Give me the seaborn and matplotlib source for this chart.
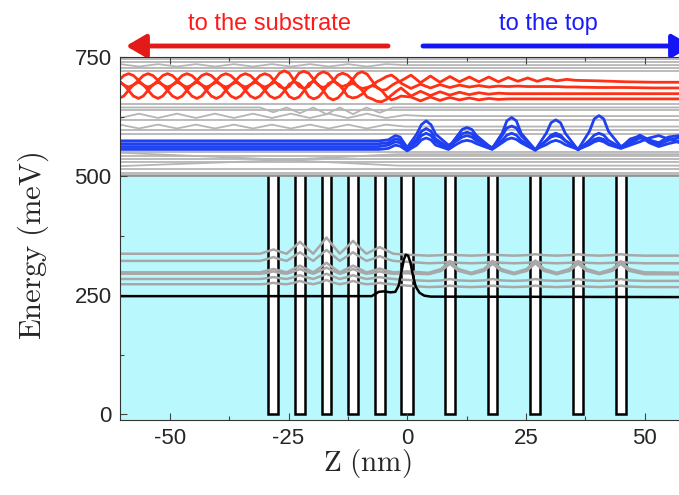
import numpy as np
import pandas as pd
import matplotlib
matplotlib.use('Agg')
import matplotlib.pyplot as plt
import seaborn as sns
from matplotlib.ticker import MultipleLocator

# ---- structure: barriers (nm) ----
barrier_z = [-28.2, -22.6, -17.0, -11.4, -5.8, 0.0, 9.0, 18.0, 27.0, 36.0, 45.0]
barrier_w = [2.05, 2.05, 2.05, 2.05, 2.05, 2.6, 2.05, 2.05, 2.05, 2.05, 2.05]
barrier_top = 500

# ---- ground state (black) ----
ground_z = [-60.5, -7.5, -6.8, -6.0, -5.0, -3.5, -2.5, -1.8, -1.2, -0.7, -0.3, 0.2, 0.7, 1.2, 1.8, 2.6, 3.6, 5, 60]
ground_e = [248, 248, 252, 257, 258, 256, 257, 270, 300, 325, 335, 333, 318, 292, 268, 255, 249, 247, 246]

# ---- bound states in the wells (grey) ----
well_z = [-60.5, -31, -29.4, -28.2, -27.0, -25.4, -23.8, -22.6, -21.4, -19.8, -18.2, -17.0, -15.8,
          -14.2, -12.6, -11.4, -10.2, -8.6, -7.0, -5.8, -4.6, -2.9, 0, 4.5, 7.2, 9, 10.8, 13.5,
          16.2, 18, 19.8, 22.5, 25.2, 27, 28.8, 31.5, 34.2, 36, 37.8, 40.5, 43.2, 45, 46.8, 50, 60]
well_g1 = [337, 337, 342, 346, 342, 337, 351, 362, 351, 337, 356, 371, 356, 337, 352, 364, 352, 337, 345, 351, 345, 337,
           335, 333, 334, 336, 334, 333, 334, 336, 334, 333, 334, 336, 334, 333, 334, 336, 334, 333, 334, 336, 334, 333, 333]
well_g2 = [322, 322, 326, 330, 326, 322, 332, 340, 332, 322, 335, 345, 335, 322, 332, 340, 332, 322, 327, 332, 327, 322,
           320, 317, 318, 320, 318, 317, 318, 320, 318, 317, 318, 320, 318, 317, 318, 320, 318, 317, 318, 320, 318, 317, 317]
well_g3 = [298, 298, 302, 305, 302, 298, 306, 312, 306, 298, 309, 318, 309, 298, 306, 312, 306, 298, 302, 306, 302, 298,
           300, 297, 305, 322, 305, 297, 305, 322, 305, 297, 305, 323, 305, 297, 305, 322, 305, 297, 305, 321, 305, 298, 297]
well_g4 = [295, 295, 297, 300, 297, 295, 300, 305, 300, 295, 302, 308, 302, 295, 300, 305, 300, 295, 297, 300, 297, 295,
           296, 294, 301, 316, 301, 294, 301, 316, 301, 294, 301, 317, 301, 294, 301, 316, 301, 294, 301, 316, 301, 294, 294]
well_g5 = [284, 284, 286, 288, 286, 284, 288, 292, 288, 284, 290, 295, 290, 284, 288, 292, 288, 284, 286, 288, 286, 284,
           282, 280, 281, 284, 281, 280, 281, 284, 281, 280, 281, 284, 281, 280, 281, 284, 281, 280, 281, 284, 281, 280, 280]
well_g6 = [273, 273, 274, 276, 274, 273, 276, 280, 276, 273, 277, 282, 277, 273, 276, 280, 276, 273, 274, 276, 274, 273,
           270, 267, 268, 270, 268, 267, 268, 270, 268, 267, 268, 270, 268, 267, 268, 270, 268, 267, 268, 270, 268, 267, 267]

# ---- continuum states (grey) ----
grey_levels = [746, 740, 727, 721, 652, 638, 617, 596, 588, 550, 543, 536, 529, 514, 507, 502]
wavy_z = [-60.5, -56.5, -52.5, -48.5, -44.5, -40.5, -36.5, -32.5, -28.5, -24.5, -20.5, -16.5, -12.5, -8.5, -4.5, -0.5, 4, 60]
wavy_1 = [622, 631, 622, 631, 622, 631, 622, 631, 622, 631, 622, 631, 622, 631, 622, 628, 626, 626]
wavy_2 = [608, 600, 608, 600, 608, 600, 608, 600, 608, 600, 608, 600, 608, 600, 608, 604, 604, 604]
wavy_3 = [735, 730, 735, 730, 735, 730, 735, 730, 735, 730, 735, 730, 735, 730, 735, 733, 733, 733]
cross_z = [-60.5, -30, -2, 60]
cross_1 = [549, 536, 522, 522]
cross_2 = [521, 532, 546, 546]
vee_z = [-60.5, -31, -28.2, -25.4, -22.6, -19.8, -17, -14.2, -11.4, -8.6, -5.8, -3, 60]
vee_1 = [644, 644, 634, 644, 632, 644, 630, 644, 630, 644, 633, 644, 644]

# ---- states escaping to the top (blue) ----
blue_z = [-60.5, -6, -4, -2.5, -1.5, 0,
          2.0, 3.0, 4.0, 5.0, 6.0,
          8.7, 10.6, 11.6, 12.6, 13.6, 14.6,
          17.9, 20, 21, 22, 23, 24,
          27, 29.3, 30.3, 31.3, 32.3, 33.3,
          36, 38.4, 39.4, 40.4, 41.4, 42.4,
          45, 47, 49, 51, 53, 55, 58]
blue_1 = [574, 574, 576, 585, 582, 560,
          588, 608, 616, 608, 588,
          565, 575, 582, 585, 582, 574,
          560, 575, 586, 590, 586, 575,
          556, 566, 572, 575, 572, 566,
          556, 568, 577, 580, 577, 568,
          560, 568, 580, 574, 566, 575, 582]
blue_2 = [568, 568, 570, 578, 576, 558,
          578, 594, 600, 594, 578,
          560, 585, 598, 602, 598, 585,
          558, 590, 616, 623, 616, 590,
          555, 575, 586, 590, 586, 575,
          556, 566, 572, 575, 572, 566,
          558, 565, 572, 580, 585, 578, 568]
blue_3 = [562, 562, 565, 572, 570, 556,
          572, 585, 590, 585, 572,
          557, 578, 589, 592, 589, 578,
          557, 585, 601, 605, 601, 585,
          555, 590, 612, 618, 612, 590,
          555, 575, 586, 590, 586, 575,
          560, 578, 584, 570, 562, 568, 575]
blue_4 = [556, 556, 558, 565, 563, 553,
          565, 576, 580, 576, 565,
          556, 568, 573, 575, 573, 568,
          556, 570, 577, 580, 577, 570,
          554, 574, 582, 585, 582, 574,
          556, 594, 620, 627, 620, 594,
          562, 572, 586, 576, 570, 582, 586]

# ---- states escaping to the substrate (red) ----
red_z = [-60.75, -59.7, -58.7, -57.65, -56.6, -55.6, -54.6, -53.55, -52.5, -51.5, -50.5, -49.45,
         -48.4, -47.4, -46.4, -45.35, -44.3, -43.3, -42.3, -41.25, -40.2, -39.2, -38.2, -37.15,
         -36.1, -35.1, -34.1, -33.05, -32.0, -31.0, -30.0, -28.95,
         -27.9, -26.9, -25.9, -24.85, -23.8, -22.8, -21.8, -20.75, -19.7, -18.7, -17.7, -16.65,
         -15.6, -14.6, -13.6, -12.55, -11.5, -10.5, -9.5, -8.45, -7.4, -6.4, -5.4, -4.35, -3.3,
         -2.3, -1.3,
         0.8, 2.8, 4.9, 6.9, 9.0, 11.0, 13.1, 15.1, 17.2, 19.2, 21.3, 23.3, 25.4, 27.4, 29.5,
         31.5, 33.6, 35.6, 40, 46, 52, 60]
red_1 = [701, 711, 715, 711, 701, 691, 687, 691, 701, 711, 715, 711, 701, 691, 687, 691,
         701, 711, 715, 711, 701, 691, 687, 691, 701, 711, 715, 711, 701, 691, 687, 691,
         703, 716, 721, 716, 700, 688, 684, 688, 702, 714, 719, 715, 703, 692, 688, 692,
         703, 715, 719, 714, 700, 686, 680, 682, 690, 696, 700,
         712, 696, 710, 697, 709, 698, 708, 698, 708, 698, 707, 699, 706, 699, 705, 700,
         703, 701, 700, 698, 697, 697]
red_2 = [701, 691, 687, 691, 701, 711, 715, 711, 701, 691, 687, 691, 701, 711, 715, 711,
         701, 691, 687, 691, 701, 711, 715, 711, 701, 691, 687, 691, 701, 711, 715, 711,
         699, 688, 684, 688, 702, 716, 720, 716, 703, 690, 686, 690, 700, 712, 716, 712,
         702, 688, 684, 686, 690, 698, 703, 709, 712, 705, 695,
         684, 693, 685, 692, 686, 691, 687, 690, 687, 689, 688, 689, 688, 688, 688, 688,
         687, 687, 686, 686, 685, 685]
red_3 = [697, 692, 680, 668, 663, 668, 680, 692, 697, 692, 680, 668, 663, 668, 680, 692,
         697, 692, 680, 668, 663, 668, 680, 692, 697, 692, 680, 668, 663, 668, 680, 692,
         697, 692, 682, 667, 662, 666, 678, 694, 699, 692, 680, 665, 660, 664, 675, 690,
         695, 690, 680, 666, 662, 657, 656, 661, 670, 678, 685,
         668, 678, 669, 677, 670, 676, 671, 675, 672, 674, 673, 673, 673, 673, 673, 673,
         673, 673, 673, 673, 673, 673]
red_4 = [663, 668, 680, 692, 697, 692, 680, 668, 663, 668, 680, 692, 697, 692, 680, 668,
         663, 668, 680, 692, 697, 692, 680, 668, 663, 668, 680, 692, 697, 692, 680, 668,
         663, 667, 678, 693, 698, 694, 684, 667, 662, 666, 677, 694, 699, 694, 683, 668,
         664, 666, 672, 684, 690, 687, 680, 667, 660, 663, 668,
         666, 658, 666, 659, 665, 660, 664, 660, 663, 661, 662, 662, 662, 662, 662, 662,
         662, 662, 662, 662, 662, 662]


def long_df(z, curves):
    frames = [pd.DataFrame({'z': z, 'E': e, 'state': name}) for name, e in curves.items()]
    return pd.concat(frames, ignore_index=True)


def draw_states(df, color, lw, zorder):
    sns.lineplot(data=df, x='z', y='E', units='state', estimator=None, color=color, lw=lw,
                 legend=False, ax=ax, zorder=zorder, solid_joinstyle='round')


sns.set_style('ticks')
plt.rcParams['font.family'] = ['Liberation Sans', 'DejaVu Sans']
plt.rcParams['mathtext.fontset'] = 'cm'
plt.rcParams['axes.unicode_minus'] = False

fig = plt.figure(figsize=(6.79, 4.95), dpi=100)
ax = fig.add_axes([120 / 679, 75 / 495, 572 / 679, 363 / 495])
ax.set_xlim(-60.5, 60)
ax.set_ylim(-12, 750)
ax.set_axisbelow(False)

# quantum-well background and barriers
ax.axhspan(-12, barrier_top, color='#b9f9fd', lw=0, zorder=0)
ax.bar(barrier_z, barrier_top, width=barrier_w, bottom=0, color='white', lw=0, zorder=1)
for z, w in zip(barrier_z, barrier_w):
    ax.plot([z - w / 2, z - w / 2, z + w / 2, z + w / 2], [barrier_top, 0, 0, barrier_top],
            color='black', lw=1.8, zorder=1.5, solid_joinstyle='miter')
ax.axhline(barrier_top, color='#8c8c8c', lw=1.2, zorder=2.5)

# continuum (grey)
draw_states(long_df([-60.5, 60], {f'c{i}': [e, e] for i, e in enumerate(grey_levels)}), '#b5b5b5', 1.3, 2)
draw_states(long_df(wavy_z, {'w1': wavy_1, 'w2': wavy_2, 'w3': wavy_3}), '#b5b5b5', 1.3, 2)
draw_states(long_df(cross_z, {'x1': cross_1, 'x2': cross_2}), '#b5b5b5', 1.3, 2)
draw_states(long_df(vee_z, {'v1': vee_1}), '#b5b5b5', 1.3, 2)

# bound states in the superlattice (grey)
draw_states(long_df(well_z, {'g1': well_g1, 'g2': well_g2, 'g3': well_g3,
                             'g4': well_g4, 'g5': well_g5, 'g6': well_g6}), '#a8a8a8', 1.8, 2)

# ground state (black)
draw_states(long_df(ground_z, {'ground': ground_e}), 'black', 1.8, 3)

# blue and red states
draw_states(long_df(blue_z, {'b1': blue_1, 'b2': blue_2, 'b3': blue_3, 'b4': blue_4}), '#1e40f0', 2.0, 4)
draw_states(long_df(red_z, {'r1': red_1, 'r2': red_2, 'r3': red_3, 'r4': red_4}), '#ff3015', 2.0, 4)

# axes styling
ax.set_xticks([-50, -25, 0, 25, 50])
ax.set_yticks([0, 250, 500, 750])
ax.xaxis.set_minor_locator(MultipleLocator(12.5))
ax.yaxis.set_minor_locator(MultipleLocator(125))
ax.tick_params(which='both', direction='in', top=True, right=True, color='#444444', width=0.8)
ax.tick_params(which='major', length=5, labelsize=16, pad=6)
ax.tick_params(which='minor', length=3)
for s in ax.spines.values():
    s.set_color('#333333')
    s.set_linewidth(0.8)
    s.set_zorder(5)
ax.set_xlabel(r'$\mathrm{Z\ (nm)}$', fontsize=21)
ax.set_ylabel(r'$\mathrm{Energy\ (meV)}$', fontsize=22)
ax.xaxis.set_label_coords(0.432, -0.075)
ax.yaxis.set_label_coords(-0.12, 0.48)

# direction arrows above the plot
ax.annotate('', xy=(126 / 679, 1 - 46 / 495), xytext=(388 / 679, 1 - 46 / 495),
            xycoords='figure fraction', textcoords='figure fraction', annotation_clip=False,
            arrowprops=dict(arrowstyle='-|>,head_length=0.6,head_width=0.35', color='#e41a1a',
                            lw=3.5, shrinkA=0, shrinkB=0, mutation_scale=20))
ax.annotate('', xy=(692 / 679, 1 - 46 / 495), xytext=(423 / 679, 1 - 46 / 495),
            xycoords='figure fraction', textcoords='figure fraction', annotation_clip=False,
            arrowprops=dict(arrowstyle='-|>,head_length=0.6,head_width=0.35', color='#1414f5',
                            lw=3.5, shrinkA=0, shrinkB=0, mutation_scale=20))
fig.text(270 / 679, 1 - 24 / 495, 'to the substrate', color='#ff1a1a', ha='center', va='center', fontsize=17)
fig.text(548 / 679, 1 - 24 / 495, 'to the top', color='#1a1aff', ha='center', va='center', fontsize=17)

fig.savefig('out.png', dpi=100)
